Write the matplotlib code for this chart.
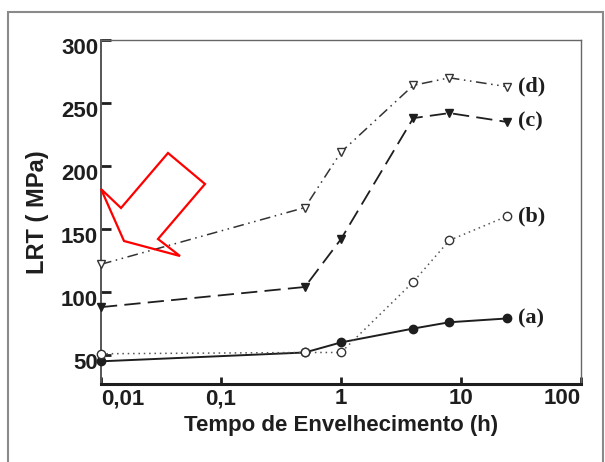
import matplotlib
matplotlib.use("Agg")
import matplotlib.pyplot as plt
import matplotlib.transforms as mtransforms
from matplotlib.patches import Polygon, Rectangle

# aging time (h)
tempo = [0.01, 0.5, 1, 4, 8, 24]

# LRT (MPa) per curve
lrt_a = [45, 52, 60, 71, 76, 79]
lrt_b = [51, 52, 52, 108, 141, 160]
lrt_c = [88, 104, 142, 238, 242, 235]
lrt_d = [122, 167, 211, 264, 270, 263]

curve_names = ["(a)", "(b)", "(c)", "(d)"]
x_ticks = [0.01, 0.1, 1, 10, 100]
x_ticklabels = ["0,01", "0,1", "1", "10", "100"]
y_ticks = [50, 100, 150, 200, 250, 300]

W, H = 605, 462
fig = plt.figure(figsize=(W / 100, H / 100), dpi=100)
ax = fig.add_axes([101 / W, 1 - 384 / H, 480 / W, 344 / H])

ink = "#1e1e1e"
ax.plot(tempo, lrt_a, color=ink, lw=1.4, ls="-", marker="o", ms=6,
        mfc=ink, mec=ink, clip_on=False, zorder=3)
ax.plot(tempo, lrt_b, color="#555555", lw=1.1, ls=(0, (1, 2.5)), marker="o", ms=6,
        mfc="white", mec="#333333", mew=1.0, clip_on=False, zorder=3)
ax.plot(tempo, lrt_c, color=ink, lw=1.3, ls=(0, (9, 4)), marker="v", ms=5.5,
        mfc=ink, mec=ink, clip_on=False, zorder=3)
ax.plot(tempo, lrt_d, color="#333333", lw=1.1, ls=(0, (7, 3, 1, 3, 1, 3)), marker="v", ms=5.5,
        mfc="white", mec="#333333", mew=1.0, clip_on=False, zorder=3)

last = [lrt_a[-1], lrt_b[-1], lrt_c[-1], lrt_d[-1]]
for name, v in zip(curve_names, last):
    ax.text(30, v, name, fontsize=16, fontweight="bold", family="Liberation Serif",
            ha="left", va="center", color=ink)

ax.set_xscale("log")
ax.set_xlim(0.01, 100)
ax.set_ylim(27, 300)
ax.set_xticks(x_ticks)
ax.set_xticklabels(x_ticklabels)
ax.minorticks_off()
ax.set_yticks(y_ticks)

ax.tick_params(axis="both", direction="in", length=7, width=2, color=ink, pad=2)
ax.tick_params(axis="x", length=5, pad=3)

for lab in ax.get_xticklabels() + ax.get_yticklabels():
    lab.set_fontfamily("Liberation Sans")
    lab.set_fontweight("bold")
    lab.set_fontsize(16)
    lab.set_color(ink)
xl = ax.get_xticklabels()
xl[0].set_ha("left")
xl[-1].set_ha("right")

# y tick labels sit a little below their ticks in the original
shift = mtransforms.ScaledTranslation(0, -6 / 100, fig.dpi_scale_trans)
for lab in ax.get_yticklabels():
    lab.set_transform(lab.get_transform() + shift)

ax.set_xlabel("Tempo de Envelhecimento (h)", fontsize=16, fontweight="bold",
              family="Liberation Sans", color=ink, labelpad=4)
ax.set_ylabel("LRT ( MPa)", fontsize=17, fontweight="bold",
              family="Liberation Sans", color=ink, labelpad=9)

for side in ["top", "right"]:
    ax.spines[side].set_color("#666666")
    ax.spines[side].set_linewidth(1.0)
ax.spines["left"].set_color("#555555")
ax.spines["left"].set_linewidth(1.4)
ax.spines["bottom"].set_color(ink)
ax.spines["bottom"].set_linewidth(2.2)

# red callout arrow (figure pixel coords)
arrow_px = [(101, 189), (121, 208), (168, 153), (205, 184),
            (158, 239), (180, 256), (124, 241)]
arrow = Polygon([(x / W, 1 - y / H) for x, y in arrow_px], closed=True,
                fill=False, edgecolor="red", lw=1.6, transform=fig.transFigure,
                zorder=5)
fig.patches.append(arrow)

# outer gray frame
frame = Rectangle((8 / W, -0.05), (603 - 8) / W, 1 - 12 / H + 0.05, fill=False,
                  edgecolor="#8a8a8a", lw=1.5, transform=fig.transFigure)
fig.patches.append(frame)

fig.savefig("out.png", dpi=100)
